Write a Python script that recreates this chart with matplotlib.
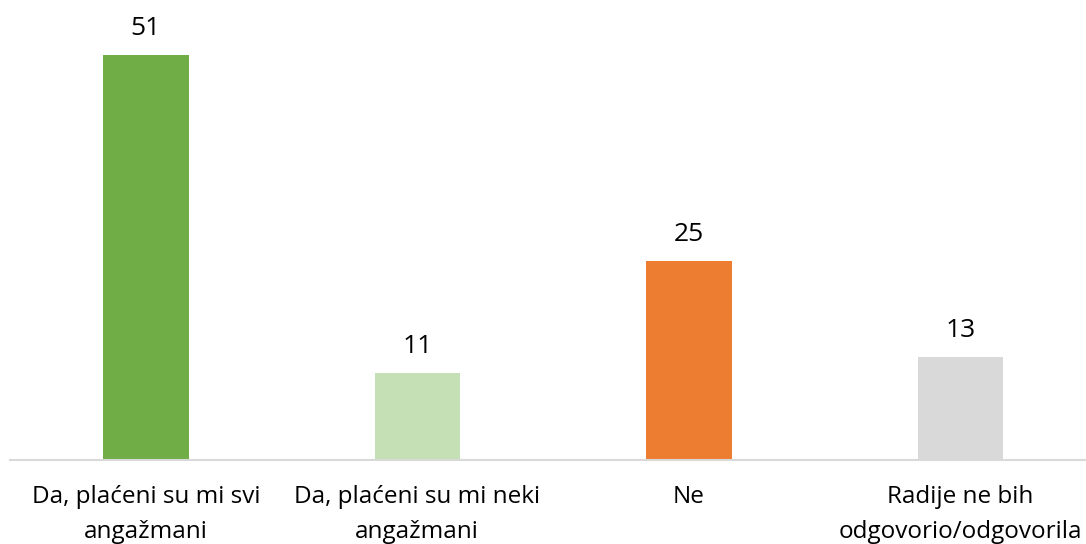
import matplotlib
matplotlib.use('Agg')
import matplotlib.pyplot as plt

plt.rcParams['font.family'] = ['Open Sans', 'DejaVu Sans']

# Data
categories = ['Da, plaćeni su mi svi\nangažmani',
              'Da, plaćeni su mi neki\nangažmani',
              'Ne',
              'Radije ne bih\nodgovorio/odgovorila']
values = [51, 11, 25, 13]
colors = ['#70AD47', '#C5E0B4', '#ED7D31', '#D9D9D9']

fig = plt.figure(figsize=(10.86, 5.44), dpi=100)
ax = fig.add_axes([10 / 1086, 84 / 544, 1076 / 1086, 460 / 544])

x = list(range(len(categories)))
bars = ax.bar(x, values, width=0.315, color=colors)

# value labels above bars
for xi, v in zip(x, values):
    ax.annotate(str(v), (xi, v), xytext=(0, 10), textcoords='offset points',
                ha='center', va='bottom', fontsize=19, color='#000000')

ax.set_xlim(-0.5, 3.463)
ax.set_ylim(0, 57.9)

for s in ['top', 'right', 'left']:
    ax.spines[s].set_visible(False)
ax.spines['bottom'].set_color('#D9D9D9')
ax.spines['bottom'].set_linewidth(1.5)

ax.set_yticks([])
ax.set_xticks(x)
ax.set_xticklabels(categories, fontsize=17.5, linespacing=1.6)
ax.tick_params(axis='x', length=0, pad=18)

fig.savefig('out.png', dpi=100)
